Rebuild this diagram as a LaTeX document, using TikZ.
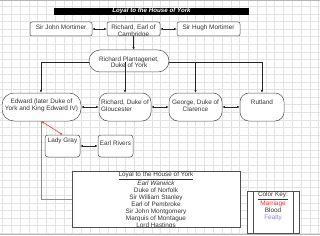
\documentclass[tikz,border=0pt]{standalone}
\usepackage{fontspec}
\setmainfont{Liberation Sans}
\usetikzlibrary{arrows.meta}
\definecolor{gridc}{HTML}{E3E3E3}
\definecolor{boxc}{HTML}{505050}
\definecolor{marr}{HTML}{FF2A2A}
\definecolor{feal}{HTML}{8A7CF5}
\tikzset{
  box/.style={draw=boxc, line width=0.5pt, fill=white, inner sep=0pt},
  lbl/.style={inner sep=0pt, font=\fontsize{6.4}{7}\selectfont, text=black!80, align=center},
  arr/.style={-{Latex[length=2.6pt,width=2.2pt]}, line width=0.45pt, draw=black!85},
  arrtwo/.style={{Latex[length=2.6pt,width=2.2pt]}-{Latex[length=2.6pt,width=2.2pt]}, line width=0.45pt, draw=black!85},
  marriage/.style={arrtwo, draw=marr, fill=marr},
  fealty/.style={draw=feal, line width=0.6pt}
}
\begin{document}
\begin{tikzpicture}[x=1pt,y=-1pt]
\useasboundingbox (0,0) rectangle (320,235);
\fill[white] (0,0) rectangle (320,235);
% grid
\foreach \i in {0,...,36} \draw[gridc, line width=0.5pt] ({2.5+8.78*\i},0) -- ({2.5+8.78*\i},235);
\foreach \j in {0,...,30} \draw[gridc, line width=0.5pt] (0,{6.5+7.55*\j}) -- (320,{6.5+7.55*\j});
\draw[gridc!80!black, line width=0.8pt] (0,0.4) -- (320,0.4);
\draw[gridc!80!black, line width=0.8pt] (0,234.6) -- (320,234.6);

% title bar
\node[fill=black, minimum width=195pt, minimum height=7.5pt, inner sep=0pt] (bar) at (151.5,11.5) {};
\node[lbl, text=white, font=\fontsize{6.2}{7}\selectfont\bfseries\itshape] (title) at (151.5,11.8) {\underline{Loyal to the House of York}};

% tree connector lines
\coordinate (tl) at (41,62);
\coordinate (tr) at (263,62);
\draw[line width=0.45pt, draw=black!85] (tl) -- (tr);

% row 1
\node[box, rounded corners=2pt, minimum width=62pt, minimum height=14pt] (john) at (61,29) {};
\node[box, rounded corners=2pt, minimum width=53pt, minimum height=14pt] (earl) at (133.5,29) {};
\node[box, rounded corners=2pt, minimum width=63pt, minimum height=14pt] (hugh) at (208.5,29) {};
\node[lbl] (johnl) at (61,27.7) {Sir John Mortimer};
\node[lbl] (hughl) at (208.5,27.5) {Sir Hugh Mortimer};
\begin{scope}
  \clip (107.5,22.3) rectangle (159.5,35.6);
  \node[lbl] (earll) at (133.5,31) {Richard, Earl of\\Cambridge};
\end{scope}

% York
\node[box, rounded corners=11pt, minimum width=80pt, minimum height=22pt] (york) at (129,61) {};
\node[lbl, font=\fontsize{6.4}{6.7}\selectfont] (yorkl) at (129,62.2) {Richard Plantagenet,\\Duke of York};

% row 2
\node[box, rounded corners=12pt, minimum width=79pt, minimum height=28pt] (edward) at (41.5,107) {};
\node[box, rounded corners=9pt, minimum width=52pt, minimum height=28pt] (glou) at (125,107) {};
\node[box, rounded corners=9pt, minimum width=53pt, minimum height=28pt] (george) at (195.5,107) {};
\node[box, rounded corners=9pt, minimum width=44pt, minimum height=28pt] (rutland) at (262,107) {};
\node[lbl] (edwardl) at (41.5,105.7) {Edward (later Duke of\\York and King Edward IV)};
\node[lbl, align=left] (gloul) at (125,105.7) {Richard, Duke of\\Gloucester};
\node[lbl] (georgel) at (195.5,105.7) {George, Duke of\\Clarence};
\node[lbl] (rutlandl) at (262,102) {Rutland};

% row 3
\node[box, rounded corners=3pt, minimum width=35pt, minimum height=22pt] (gray) at (62.5,146) {};
\node[box, rounded corners=3pt, minimum width=35pt, minimum height=22pt] (rivers) at (115.5,146) {};
\node[lbl] (grayl) at (62.5,141) {Lady Gray};
\node[lbl] (riversl) at (115.5,143.3) {Earl Rivers};

% loyal box
\node[box, minimum width=168pt, minimum height=56pt] (loyal) at (156,199) {};
\begin{scope}
  \clip (72.3,171.3) rectangle (239.7,226.7);
  \node[lbl, font=\fontsize{6.4}{7.14}\selectfont] (loyall) at (156,200.3) {\underline{Loyal to the House of York}\\\textit{Earl Warwick}\\Duke of Norfolk\\Sir William Stanley\\Earl of Pembroke\\Sir John Montgomery\\Marquis of Montague\\Lord Hastings};
\end{scope}

% colour key
\node[box, minimum width=52pt, minimum height=42pt] (key) at (273,212) {};
\draw[boxc, line width=0.5pt] (253,191) -- (253,233);
\draw[boxc, line width=0.5pt] (293,191) -- (293,233);
\node[lbl] (keyl) at (273,206.5) {\underline{Color Key:}\\\textcolor{marr}{Marriage}\\Blood\\\textcolor{feal}{Fealty}};

% connectors
\draw[arrtwo] (john) -- (earl);
\draw[arrtwo] (earl) -- (hugh);
\draw[arr] (earl.south) -- (earl.south |- york.north);
\draw[arr] (tl) -- (tl |- edward.north);
\draw[arr] (glou.north |- tl) -- (glou.north);
\draw[arr] (george.north |- tl) -- (george.north);
\draw[arr] (rutland.north |- tl) -- (rutland.north);
\draw[arrtwo] (edward) -- (glou);
\draw[arrtwo] (glou) -- (george);
\draw[arrtwo] (george) -- (rutland);
\draw[arrtwo] (gray) -- (rivers);
\draw[fealty] (edward.south) |- (loyal.west);
\draw[marriage] (edward.south) -- (gray.north);
\end{tikzpicture}
\end{document}
